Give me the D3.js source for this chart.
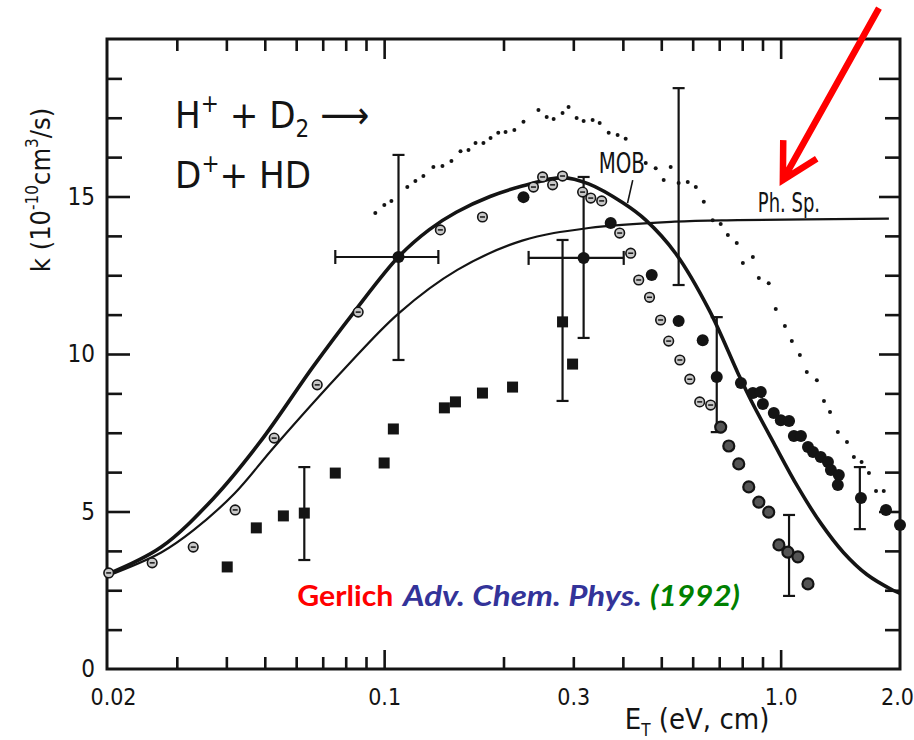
<!DOCTYPE html>
<html><head><meta charset="utf-8">
<script src="https://cdn.jsdelivr.net/npm/d3@7/dist/d3.min.js"></script>
<style>body{margin:0;background:#fff}svg{display:block}</style>
</head><body>
<svg id="c" width="914" height="740"></svg>
<script>
// ---- data (E in eV, k in 1e-10 cm^3/s) ----
const mobE = [0.02,0.0274,0.037,0.0486,0.0662,0.0836,0.109,0.13,0.152,0.185,0.223,0.282,0.328,0.40,0.457,0.543,0.66,0.78,0.841,0.961,1.105,1.262,1.44,1.65,1.92,2.0];
const mobK = [3.0,3.87,5.4,7.2,9.6,11.3,13.1,13.95,14.5,15.0,15.33,15.6,15.4,14.8,14.25,13.2,11.4,9.4,8.54,7.17,5.78,4.63,3.7,3.0,2.5,2.4];
const phE = [0.02,0.0274,0.033,0.042,0.0528,0.079,0.109,0.153,0.223,0.328,0.54,0.78,1.875];
const phK = [2.95,3.7,4.4,5.58,7.05,9.5,11.3,12.67,13.6,14.0,14.2,14.25,14.3];
const dotE = [0.095,0.1001,0.1043,0.1144,0.1199,0.1256,0.1331,0.1403,0.1478,0.1558,0.1632,0.170,0.178,0.1855,0.194,0.2024,0.213,0.2246,0.245,0.257,0.2676,0.2818,0.2918,0.3058,0.3185,0.3356,0.3496,0.3684,0.388,0.4066,0.4568,0.484,0.528,0.507,0.553,0.583,0.611,0.640,0.674,0.706,0.736,0.775,0.803,0.851,0.881,0.933,0.972,1.025,1.067,1.118,1.164,1.234,1.286,1.332,1.394,1.47,1.53,1.60,1.67,1.74,1.82,1.81,1.876];
const dotK = [14.48,14.73,14.86,15.30,15.49,15.65,15.94,15.97,16.13,16.44,16.48,16.70,16.70,16.86,17.02,17.05,17.11,17.37,17.75,17.52,17.46,17.65,17.84,17.49,17.40,17.43,17.33,17.02,16.95,16.83,16.06,15.90,15.94,15.52,15.43,15.46,15.30,14.83,14.25,14.13,13.78,13.52,12.89,13.08,12.41,12.25,11.43,10.89,10.41,9.97,9.43,9.17,8.51,8.16,7.52,7.21,6.73,6.57,6.22,5.65,5.65,5.11,5.11];
const ringE = [0.0202,0.026,0.033,0.0421,0.0528,0.0678,0.086,0.1386,0.177,0.238,0.251,0.266,0.2818,0.3166,0.332,0.3537,0.3927,0.4186,0.4386,0.467,0.498,0.522,0.557,0.590,0.625,0.666];
const ringK = [3.05,3.37,3.87,5.05,7.33,9.02,11.33,13.94,14.35,15.3,15.62,15.37,15.65,15.14,14.95,14.86,13.84,13.2,12.35,11.8,11.08,10.41,9.81,9.2,8.48,8.38];
const darkE = [0.706,0.740,0.784,0.831,0.881,0.933,0.990,1.043,1.105,1.172];
const darkK = [7.68,7.08,6.51,5.78,5.30,4.98,3.94,3.71,3.56,2.70];
const fillE = [0.1087,0.3185,0.2246,0.3727,0.473,0.553,0.636,0.690,0.794,0.851,0.891,0.902,0.961,1.001,1.05,1.080,1.125,1.172,1.207,1.262,1.316,1.339,1.402,1.394,1.594,1.844,2.0];
const fillK = [13.08,13.05,14.98,14.16,12.51,11.05,10.44,9.27,9.08,8.76,8.79,8.41,8.13,7.90,7.87,7.40,7.40,7.05,6.89,6.73,6.57,6.32,6.16,5.84,5.43,5.05,4.57];
const sqE = [0.0402,0.0476,0.0557,0.0629,0.0753,0.1,0.1055,0.1419,0.1513,0.177,0.2108,0.2818,0.2987];
const sqK = [3.24,4.48,4.86,4.95,6.22,6.54,7.62,8.29,8.48,8.76,8.95,11.02,9.68];
const errE  = [0.0629,0.1087,0.3185,0.2818,0.553,0.690,1.05,1.584];
const errLo = [3.46,9.81,10.51,8.51,12.19,7.52,2.32,4.44];
const errHi = [6.41,16.32,15.62,13.62,18.44,11.17,4.89,6.41];
const herrK  = [13.08,13.05];
const herrLo = [0.0753,0.2314];
const herrHi = [0.137,0.402];
const xLabels = [0.02,0.1,0.3,1.0,2.0];
const xLabelText = ["0.02","0.1","0.3","1.0","2.0"];
const xMajor = [0.1,1.0];
const xMinor = [0.03,0.04,0.05,0.06,0.07,0.08,0.09,0.2,0.3,0.4,0.5,0.6,0.7,0.8,0.9];
const yLabels = [0,5,10,15];
const yMajor = [5,10,15];
const yMinor = [1.25,2.5,3.75,6.25,7.5,8.75,11.25,12.5,13.75,16.25,17.5,18.75];

// ---- drawing ----
const svg = d3.select("#c");
const x = d3.scaleLog().domain([0.02,2.0]).range([107,900]);
const y = d3.scaleLinear().domain([0,20]).range([669,39]);
const ink = "#141414";
const FONT = "'DejaVu Sans Condensed','DejaVu Sans',sans-serif";

function tickAxis(gen, vals, size, transform){
  const g = svg.append("g").attr("transform", transform)
    .call(gen.tickValues(vals).tickSizeInner(size).tickSizeOuter(0).tickFormat(""));
  g.select(".domain").remove();
  g.selectAll(".tick line").attr("stroke", ink).attr("stroke-width", 2.6);
  return g;
}
tickAxis(d3.axisBottom(x), xMajor, -19, "translate(0,669)");
tickAxis(d3.axisBottom(x), xMinor, -12, "translate(0,669)");
tickAxis(d3.axisTop(x), xMajor, -20, "translate(0,39)");
tickAxis(d3.axisTop(x), xMinor, -12, "translate(0,39)");
tickAxis(d3.axisLeft(y), yMajor, -23, "translate(107,0)");
tickAxis(d3.axisLeft(y), yMinor, -15, "translate(107,0)");
tickAxis(d3.axisRight(y), yMajor.concat([18.75]), -21, "translate(900,0)");
tickAxis(d3.axisRight(y), yMinor.filter(v=>v!==18.75), -15, "translate(900,0)");

svg.append("rect").attr("x", x(0.02)).attr("y", y(20))
  .attr("width", x(2.0)-x(0.02)).attr("height", y(0)-y(20))
  .attr("fill","none").attr("stroke", ink).attr("stroke-width", 3);

// tick labels
const xl = svg.append("g").attr("transform","translate(0,669)")
  .call(d3.axisBottom(x).tickValues(xLabels).tickSize(0).tickPadding(20)
        .tickFormat((d,i)=>xLabelText[i]));
xl.select(".domain").remove();
xl.selectAll("text").attr("font-family",FONT).attr("font-size",23).attr("fill",ink)
  .attr("dx",(d,i)=> i===xLabels.length-1 ? -3 : (i===0 ? 6 : 0));
const yl = svg.append("g").attr("transform","translate(107,0)")
  .call(d3.axisLeft(y).tickValues(yLabels).tickSize(0).tickPadding(12).tickFormat(d3.format("d")));
yl.select(".domain").remove();
yl.selectAll("text").attr("font-family",FONT).attr("font-size",24).attr("fill",ink);

// axis titles
const xt = svg.append("text").attr("x", 697).attr("y", 729)
  .attr("text-anchor","middle").attr("font-family",FONT).attr("font-size",29).attr("fill",ink);
xt.append("tspan").text("E");
xt.append("tspan").attr("font-size",17).attr("dy",7).text("T");
xt.append("tspan").attr("dy",-7).text(" (eV, cm)");
const yt = svg.append("text").attr("transform","translate(50,190) rotate(-90)")
  .attr("text-anchor","middle").attr("font-family",FONT).attr("font-size",27).attr("fill",ink);
yt.append("tspan").text("k (10");
yt.append("tspan").attr("font-size",17).attr("dy",-12).text("-10");
yt.append("tspan").attr("dy",12).text("cm");
yt.append("tspan").attr("font-size",17).attr("dy",-12).text("3");
yt.append("tspan").attr("dy",12).text("/s)");

// reaction text
const r1 = svg.append("text").attr("x", x(0.0297)).attr("y", y(17.17))
  .attr("font-family",FONT).attr("font-size",38).attr("fill",ink);
r1.append("tspan").text("H");
r1.append("tspan").attr("font-size",24).attr("dy",-16).text("+");
r1.append("tspan").attr("dy",16).text(" + D");
r1.append("tspan").attr("font-size",24).attr("dy",9).text("2");
r1.append("tspan").attr("dy",-9).text(" \u27F6");
const r2 = svg.append("text").attr("x", x(0.0297)).attr("y", y(15.27))
  .attr("font-family",FONT).attr("font-size",38).attr("fill",ink);
r2.append("tspan").text("D");
r2.append("tspan").attr("font-size",24).attr("dy",-16).text("+");
r2.append("tspan").attr("dy",16).text("+ HD");

// curves
const line = d3.line().x(d=>x(d[0])).y(d=>y(d[1])).curve(d3.curveCatmullRom.alpha(0.5));
svg.append("path").datum(phE.map((e,i)=>[e,phK[i]])).attr("d",line)
  .attr("fill","none").attr("stroke",ink).attr("stroke-width",2.2);
svg.append("path").datum(mobE.map((e,i)=>[e,mobK[i]])).attr("d",line)
  .attr("fill","none").attr("stroke",ink).attr("stroke-width",3.6);

// dotted series
svg.append("g").selectAll("circle").data(dotE.map((e,i)=>[e,dotK[i]])).join("circle")
  .attr("cx",d=>x(d[0])).attr("cy",d=>y(d[1])).attr("r",2).attr("fill",ink);

// error bars
const eb = svg.append("g").attr("stroke",ink).attr("stroke-width",2.2);
errE.forEach((e,i)=>{
  const cx=x(e);
  eb.append("line").attr("x1",cx).attr("x2",cx).attr("y1",y(errLo[i])).attr("y2",y(errHi[i]));
  [errLo[i],errHi[i]].forEach(v=>eb.append("line").attr("x1",cx-6).attr("x2",cx+6).attr("y1",y(v)).attr("y2",y(v)));
});
herrK.forEach((k,i)=>{
  const cy=y(k);
  eb.append("line").attr("x1",x(herrLo[i])).attr("x2",x(herrHi[i])).attr("y1",cy).attr("y2",cy);
  [herrLo[i],herrHi[i]].forEach(v=>eb.append("line").attr("x1",x(v)).attr("x2",x(v)).attr("y1",cy-7).attr("y2",cy+7));
});

// squares
svg.append("g").selectAll("rect").data(sqE.map((e,i)=>[e,sqK[i]])).join("rect")
  .attr("x",d=>x(d[0])-5.5).attr("y",d=>y(d[1])-5.5).attr("width",11).attr("height",11).attr("fill",ink);
// open (ringed) circles
const rg = svg.append("g").selectAll("g").data(ringE.map((e,i)=>[e,ringK[i]])).join("g")
  .attr("transform",d=>`translate(${x(d[0])},${y(d[1])})`);
rg.append("circle").attr("r",4.8).attr("fill","#c8c8c8").attr("stroke",ink).attr("stroke-width",1.6);
rg.append("line").attr("x1",-2.5).attr("x2",2.5).attr("stroke",ink).attr("stroke-width",1.5);
// dark ringed circles
svg.append("g").selectAll("circle").data(darkE.map((e,i)=>[e,darkK[i]])).join("circle")
  .attr("cx",d=>x(d[0])).attr("cy",d=>y(d[1])).attr("r",5.5)
  .attr("fill","#555").attr("stroke",ink).attr("stroke-width",2.2);
// filled circles
svg.append("g").selectAll("circle").data(fillE.map((e,i)=>[e,fillK[i]])).join("circle")
  .attr("cx",d=>x(d[0])).attr("cy",d=>y(d[1])).attr("r",6).attr("fill",ink);

// curve labels (slightly tall, like the original lettering)
svg.append("text").attr("transform",`translate(${x(0.3476)},${y(15.75)}) scale(1,1.25)`)
  .attr("font-family",FONT).attr("font-size",22).attr("fill",ink).text("MOB");
svg.append("line").attr("x1",x(0.4236)).attr("y1",y(15.52)).attr("x2",x(0.411)).attr("y2",y(14.79))
  .attr("stroke",ink).attr("stroke-width",1.6);
svg.append("text").attr("transform",`translate(${x(0.876)},${y(14.51)}) scale(1,1.3)`)
  .attr("font-family",FONT).attr("font-size",20).attr("fill",ink).text("Ph. Sp.");

// red arrow
const tail=[x(1.77),y(20.98)], tip=[x(1.013),y(15.52)];
const ang=Math.atan2(tail[1]-tip[1], tail[0]-tip[0]);
const arm=(a)=>[tip[0]+40*Math.cos(ang+a), tip[1]+40*Math.sin(ang+a)];
const a1=arm(0.5), a2=arm(-0.5);
svg.append("path").attr("d",`M${tail}L${tip}M${a1}L${tip}L${a2}`)
  .attr("fill","none").attr("stroke","#ff0000").attr("stroke-width",6.5)
  .attr("stroke-linecap","butt").attr("stroke-linejoin","miter");

// citation
const CF = "Lato,'Open Sans',sans-serif";
const cy0 = y(2.0);
svg.append("text").attr("x",x(0.0604)).attr("y",cy0).attr("font-family",CF).attr("font-weight",700)
  .attr("font-size",28).attr("fill","#ff0000").attr("textLength",96).attr("lengthAdjust","spacingAndGlyphs").text("Gerlich");
svg.append("text").attr("x",403).attr("y",cy0).attr("font-family",CF).attr("font-weight",700).attr("font-style","italic")
  .attr("font-size",28).attr("fill","#333399").attr("textLength",239).attr("lengthAdjust","spacingAndGlyphs").text("Adv. Chem. Phys.");
svg.append("text").attr("x",650).attr("y",cy0).attr("font-family",CF).attr("font-weight",700).attr("font-style","italic")
  .attr("font-size",28).attr("fill","#008000").attr("textLength",90).attr("lengthAdjust","spacingAndGlyphs").text("(1992)");
</script>
</body></html>
